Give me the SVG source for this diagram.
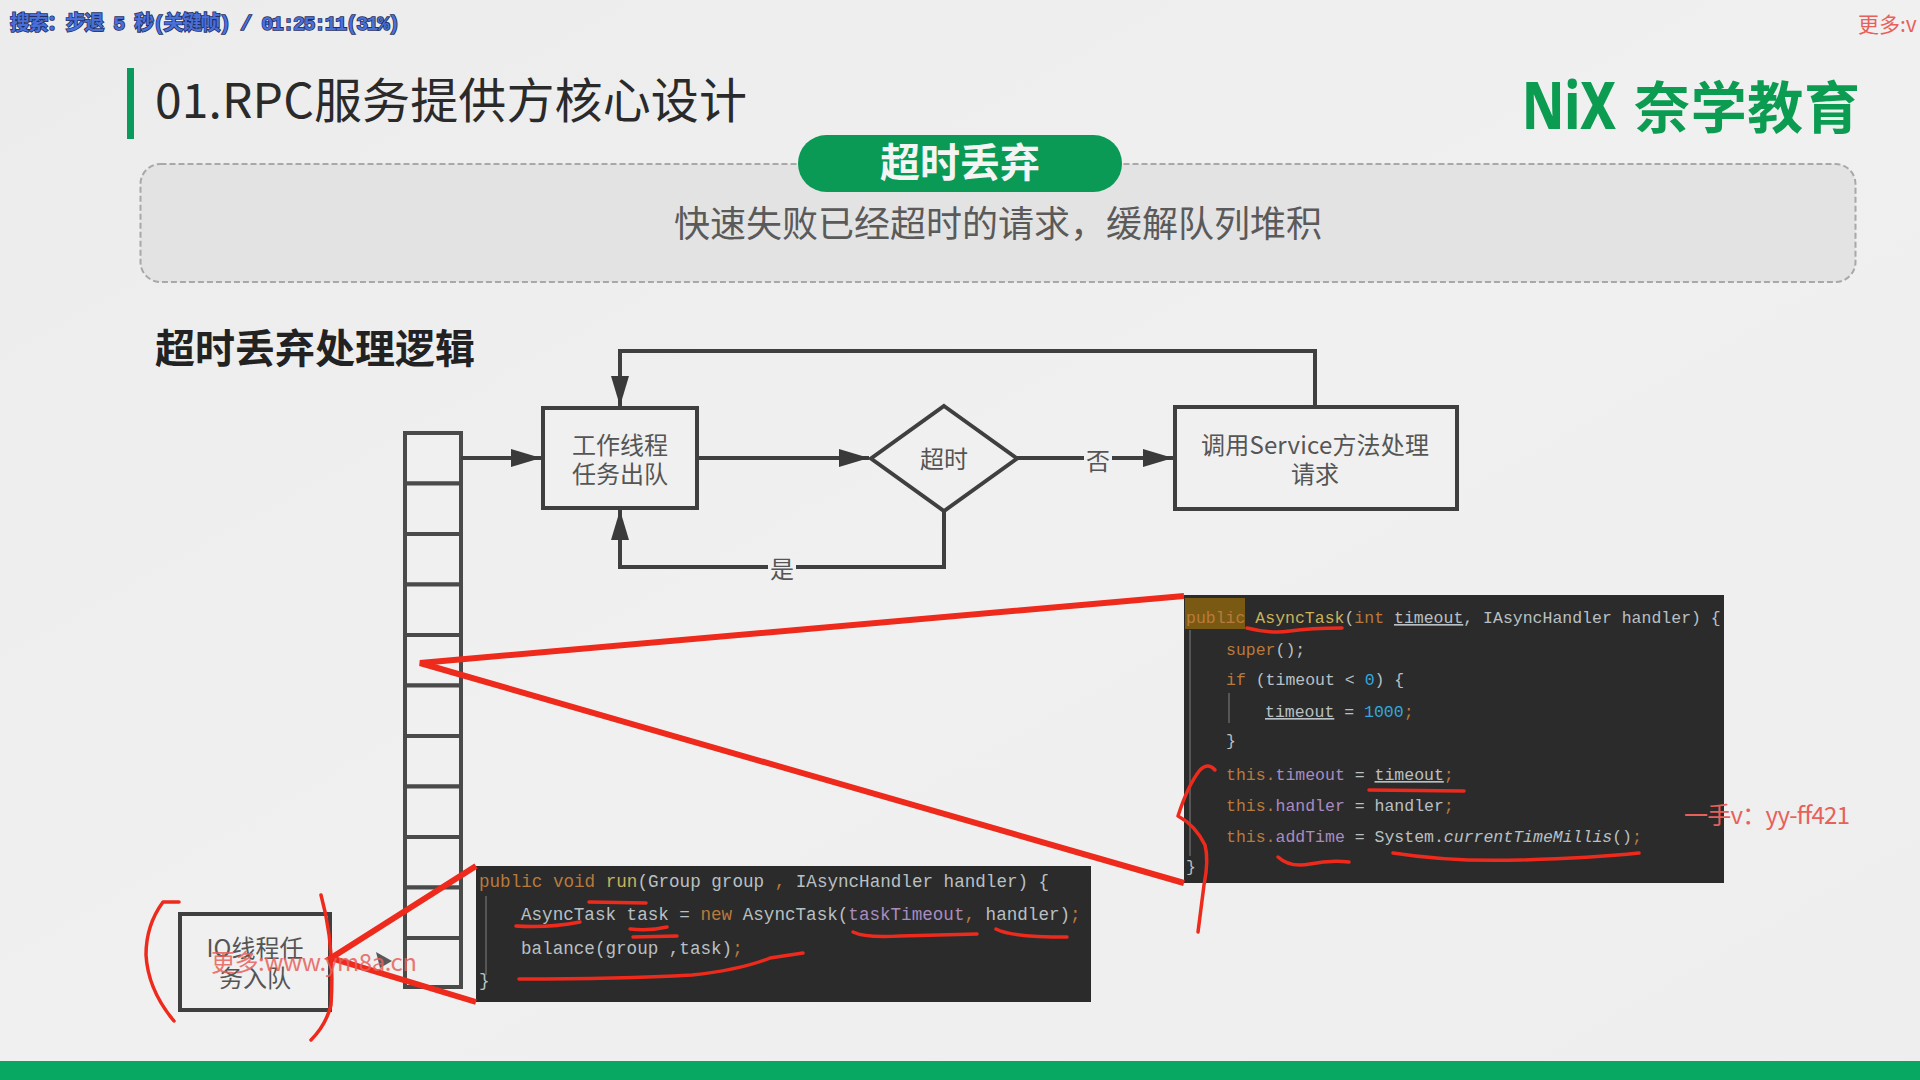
<svg xmlns="http://www.w3.org/2000/svg" width="1920" height="1080" viewBox="0 0 1920 1080">
<defs>
<linearGradient id="bg" x1="0" y1="0" x2="1" y2="1"><stop offset="0" stop-color="#ececec"/><stop offset="0.5" stop-color="#f0f0f0"/><stop offset="1" stop-color="#eeeeee"/></linearGradient>
<marker id="arrow" markerUnits="userSpaceOnUse" markerWidth="31" markerHeight="20" refX="30" refY="10" orient="auto"><path d="M0 1L30 10L0 19Z" fill="#3a3a3a"/></marker>
</defs>
<style>
text{font-family:"Noto Sans CJK SC","Noto Sans",sans-serif}
.node{fill:#f0f0f0;stroke:#3f3f3f;stroke-width:4}
.cell{fill:#f0f0f0;stroke:#4a4a4a;stroke-width:4}
.conn{fill:none;stroke:#3f3f3f;stroke-width:4}
.lbl{font-size:24px;fill:#555;text-anchor:middle}
.red{fill:none;stroke:#ee2a1c;stroke-width:3.5;stroke-linecap:round;stroke-linejoin:round}
.wedge{fill:none;stroke:#ee2a1c;stroke-width:6}
.code{fill:#2b2b2b}
.c1{font-family:"Liberation Mono","DejaVu Sans Mono",monospace;font-size:16.5px;fill:#b9c0c4;white-space:pre}
.c2{font-family:"Liberation Mono","DejaVu Sans Mono",monospace;font-size:17.6px;fill:#b9c0c4;white-space:pre}
.k{fill:#b87a3c}.y{fill:#c9b25c}.p{fill:#a98cc0}.n{fill:#35a6dc}.u{text-decoration:underline}.i{font-style:italic}
.wm{fill:#e8605a}
</style>
<rect width="1920" height="1080" fill="url(#bg)"/>
<rect y="1061" width="1920" height="19" fill="#08a862"/>
<text x="10" y="30" font-size="20" font-weight="700" fill="#4a6fd8" stroke="#1f2f60" stroke-width="1.6" paint-order="stroke" style="font-family:'Liberation Mono','Noto Sans CJK SC',monospace" textLength="390">搜索：步退 5 秒(关键帧) / 01:25:11(31%)</text>
<text x="1858" y="32" font-size="21" class="wm">更多:v</text>
<rect x="127" y="68" width="7" height="71" fill="#0a9a5c"/>
<text x="155" y="118" font-size="48" fill="#2a2a2a" textLength="592">01.RPC服务提供方核心设计</text>
<g id="logo" fill="#0b9c52" font-weight="700">
<text x="1522" y="129" font-size="66" font-weight="800" textLength="94" lengthAdjust="spacingAndGlyphs" style="font-family:'Noto Sans','Noto Sans CJK SC',sans-serif">NiX</text>
<text x="1634" y="128" font-size="56" textLength="226">奈学教育</text>
</g>
<g id="banner">
<rect x="140.500" y="164" width="1715" height="118" rx="20" fill="#e3e3e3" stroke="#a8a8a8" stroke-width="2" stroke-dasharray="6 3"/>
<rect x="798" y="135" width="324" height="57" rx="28.500" fill="#0a9a55"/>
<text x="960" y="177" font-size="40" font-weight="700" fill="#f4f4f4" text-anchor="middle">超时丢弃</text>
<text x="998" y="237" font-size="36" fill="#5a5a5a" text-anchor="middle">快速失败已经超时的请求，缓解队列堆积</text>
</g>
<text x="155" y="363" font-size="40" font-weight="700" fill="#222">超时丢弃处理逻辑</text>

<g id="queue">
<rect class="cell" x="405" y="433" width="56" height="50.500"/><rect class="cell" x="405" y="483.500" width="56" height="50.500"/><rect class="cell" x="405" y="534" width="56" height="50.500"/><rect class="cell" x="405" y="584.500" width="56" height="50.500"/><rect class="cell" x="405" y="635" width="56" height="50.500"/><rect class="cell" x="405" y="685.500" width="56" height="50.500"/><rect class="cell" x="405" y="736" width="56" height="50.500"/><rect class="cell" x="405" y="786.500" width="56" height="50.500"/><rect class="cell" x="405" y="837" width="56" height="50.500"/><rect class="cell" x="405" y="887.500" width="56" height="50.500"/><rect class="cell" x="405" y="938" width="56" height="49"/>
</g>
<g id="connectors">
<path class="conn" marker-end="url(#arrow)" d="M461 458H541"/>
<path class="conn" marker-end="url(#arrow)" d="M697 458H869"/>
<path class="conn" marker-end="url(#arrow)" d="M1017 458H1173"/>
<path class="conn" marker-end="url(#arrow)" d="M1315 407V351H620V406"/>
<path class="conn" marker-end="url(#arrow)" d="M944 511V567H620V510"/>
</g>
<g id="label-no"><rect x="1084" y="445" width="28" height="28" fill="#f0f0f0"/><text class="lbl" x="1098" y="470">否</text></g>
<g id="label-yes"><rect x="768" y="555" width="28" height="28" fill="#f0f0f0"/><text class="lbl" x="782" y="578">是</text></g>
<g id="worker"><rect class="node" x="543" y="408" width="154" height="100"/><text class="lbl" x="620" y="454">工作线程</text><text class="lbl" x="620" y="483">任务出队</text></g>
<g id="timeout"><path class="node" d="M944 406L1017 458.500L944 511L871 458.500Z"/><text class="lbl" x="944" y="468">超时</text></g>
<g id="service"><rect class="node" x="1175" y="407" width="282" height="102"/><text class="lbl" x="1315" y="454" textLength="228">调用Service方法处理</text><text class="lbl" x="1315" y="483">请求</text></g>
<g id="io"><rect class="node" x="180" y="914" width="150" height="96"/><text class="lbl" x="255" y="957">IO线程任</text><text class="lbl" x="255" y="987">务入队</text></g>

<g id="code-constructor">
<rect class="code" x="1184" y="595" width="540" height="288"/>
<rect x="1185" y="598" width="60" height="31" fill="#7a5a12"/>
<path d="M1190 630V856M1229 693V723" stroke="#666" stroke-width="1.500" fill="none"/>
<text class="c1" x="1186" y="623"><tspan class="k">public</tspan> <tspan class="y">AsyncTask</tspan>(<tspan class="k">int</tspan> <tspan class="u">timeout</tspan>, IAsyncHandler handler) {</text>
<text class="c1" x="1226" y="655"><tspan class="k">super</tspan>();</text>
<text class="c1" x="1226" y="685"><tspan class="k">if</tspan> (timeout &lt; <tspan class="n">0</tspan>) {</text>
<text class="c1" x="1265" y="717"><tspan class="u">timeout</tspan> = <tspan class="n">1000</tspan><tspan class="k">;</tspan></text>
<text class="c1" x="1226" y="746">}</text>
<text class="c1" x="1226" y="780"><tspan class="k">this.</tspan><tspan class="p">timeout</tspan> = <tspan class="u">timeout</tspan><tspan class="k">;</tspan></text>
<text class="c1" x="1226" y="811"><tspan class="k">this.</tspan><tspan class="p">handler</tspan> = handler<tspan class="k">;</tspan></text>
<text class="c1" x="1226" y="842"><tspan class="k">this.</tspan><tspan class="p">addTime</tspan> = System.<tspan class="i">currentTimeMillis</tspan>()<tspan class="k">;</tspan></text>
<text class="c1" x="1186" y="872">}</text>
</g>
<g id="code-run">
<rect class="code" x="476" y="866" width="615" height="136"/>
<path d="M486 896V975" stroke="#666" stroke-width="1.500" fill="none"/>
<text class="c2" x="479" y="887"><tspan class="k">public void</tspan> <tspan class="y">run</tspan>(Group group <tspan class="k">,</tspan> IAsyncHandler handler) {</text>
<text class="c2" x="521" y="920">AsyncTask task = <tspan class="k">new</tspan> AsyncTask(<tspan class="p">taskTimeout</tspan><tspan class="k">,</tspan> handler)<tspan class="k">;</tspan></text>
<text class="c2" x="521" y="954">balance(group ,task)<tspan class="k">;</tspan></text>
<text class="c2" x="479" y="986">}</text>
</g>
<g id="annotations">
<path class="wedge" d="M1184 596L420 663L1184 883"/>
<path class="wedge" d="M476 866L331 958L476 1002"/>
<path class="red" d="M1247 628Q1270 634 1290 631T1342 628"/>
<path class="red" d="M1369 790L1464 791" stroke-width="4"/>
<path class="red" d="M1278 857Q1290 868 1310 864T1349 862"/>
<path class="red" d="M1393 853Q1450 862 1520 860T1639 853" stroke-width="4"/>
<path class="red" d="M1215 770Q1208 762 1200 770Q1188 785 1178 816Q1195 825 1205 845Q1209 860 1204 885L1198 932"/>
<path class="red" d="M179 902L163 902Q146 925 146 955Q148 990 174 1021"/>
<path class="red" d="M321 895Q335 945 331 1005Q326 1025 311 1040"/>
<path class="red" d="M516 926Q550 928 580 922"/>
<path class="red" d="M589 902L646 903" stroke-width="4"/>
<path class="red" d="M630 929Q650 931 667 927M633 937L677 936" stroke-width="4"/>
<path class="red" d="M853 932Q865 938 900 936L977 934" stroke-width="4"/>
<path class="red" d="M996 929Q1010 937 1067 937" stroke-width="4"/>
<path class="red" d="M519 979Q620 979 692 975Q740 970 770 958L803 953" stroke-width="4"/>
<path d="M376 952L392 961L380 968Z" fill="#333" opacity="0.8"/>
</g>
<text class="wm" x="211" y="971" font-size="24" opacity="0.85" textLength="206">更多:www.ym8a.cn</text>
<text class="wm" x="1684" y="824" font-size="24" textLength="166">一手v：yy-ff421</text>
</svg>
